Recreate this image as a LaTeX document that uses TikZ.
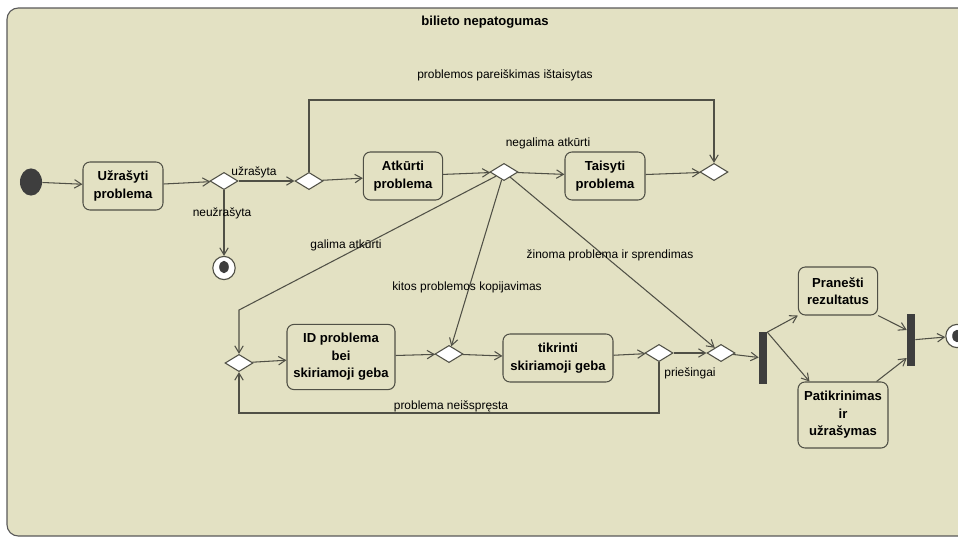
\documentclass[tikz,border=0pt]{standalone}
\usepackage{fontspec}
\setmainfont{Liberation Sans}
\usetikzlibrary{shapes.geometric,arrows.meta}
\definecolor{bgbeige}{RGB}{227,225,195}
\definecolor{linegray}{RGB}{80,80,70}
\definecolor{darkfill}{RGB}{62,62,62}
\tikzset{
  flow/.style={draw=linegray, line width=0.75pt, -{Straight Barb[length=5pt,width=6pt]}},
  action/.style={draw=linegray, line width=0.75pt, rounded corners=5pt, fill=bgbeige, align=center,
    inner sep=1pt, font=\fontsize{9.3}{12.5}\selectfont\bfseries},
  choice/.style={diamond, draw=linegray, line width=0.75pt, fill=white, minimum width=0.7cm,
    minimum height=0.43cm, inner sep=0pt},
  syncbar/.style={fill=darkfill, minimum width=0.2cm, minimum height=1.28cm, inner sep=0pt},
  guard/.style={font=\fontsize{8.5}{10}\selectfont, inner sep=1pt},
  endring/.style={ellipse, draw=linegray, line width=0.8pt, fill=white, minimum width=0.56cm,
    minimum height=0.58cm, inner sep=0pt},
  enddot/.style={ellipse, fill=darkfill, minimum width=0.24cm, minimum height=0.31cm, inner sep=0pt}
}
\begin{document}
\begin{tikzpicture}[x=0.025cm, y=-0.025cm]
\useasboundingbox (0,0) rectangle (958,539);
\clip (0,0) rectangle (958,539);
% frame and title
\draw[draw=gray!70!black, fill=bgbeige, rounded corners=8pt, line width=0.8pt] (7,8) rectangle (990,536);
\node[font=\fontsize{9.3}{11}\selectfont\bfseries] (title) at (485,22) {bilieto nepatogumas};

% start and end
\node[ellipse, fill=darkfill, minimum width=0.55cm, minimum height=0.68cm, inner sep=0pt] (start) at (31,182) {};
\node[endring] (fin1) at (224,268) {};
\node[enddot] (fin1dot) at (224,267) {};
\node[endring] (fin2) at (957,336) {};
\node[enddot] (fin2dot) at (957,336) {};

% actions
\node[action, minimum width=2.0cm, minimum height=1.2cm] (uz) at (123,186) {Užrašyti\\problema};
\node[action, minimum width=1.98cm, minimum height=1.2cm] (atk) at (403,176) {Atkūrti\\problema};
\node[action, minimum width=2.0cm, minimum height=1.2cm] (tai) at (605,176) {Taisyti\\problema};
\node[action, minimum width=2.7cm, minimum height=1.63cm] (idp) at (341,357) {ID problema\\bei\\skiriamoji geba};
\node[action, minimum width=2.75cm, minimum height=1.2cm] (tik) at (558,358) {tikrinti\\skiriamoji geba};
\node[action, minimum width=1.98cm, minimum height=1.2cm] (pr) at (838,291) {Pranešti\\rezultatus};
\node[action, minimum width=2.25cm, minimum height=1.65cm] (pt) at (843,415) {Patikrinimas\\ir\\užrašymas};

% decisions and bars
\node[choice] (d1) at (224,181) {};
\node[choice] (d2) at (309,181) {};
\node[choice] (d3) at (504,172) {};
\node[choice] (d5) at (714,172) {};
\node[choice] (d4) at (239,363) {};
\node[choice] (d6) at (449,354) {};
\node[choice] (d7) at (659,353) {};
\node[choice] (d8) at (721,353) {};
\node[syncbar] (bar1) at (763,358) {};
\node[syncbar] (bar2) at (911,340) {};

\coordinate (ptop) at (714,100);
\coordinate (bendL) at (239,310);
\coordinate (loopL) at (239,413);

% flows
\draw[flow] (start) -- (uz);
\draw[flow] (uz) -- (d1);
\draw[flow] (d1) -- (d2);
\draw[flow] (d1) -- (fin1);
\draw[flow] (d2) -- (atk);
\draw[flow] (d2.north) |- (ptop) -- (d5.north);
\draw[flow] (atk) -- (d3);
\draw[flow] (d3) -- (tai);
\draw[flow] (tai) -- (d5);
\draw[flow] (d3) -- (bendL) -- (d4.north);
\draw[flow] (d3) -- (d6);
\draw[flow] (d3) -- (d8);
\draw[flow] (d4) -- (idp);
\draw[flow] (idp) -- (d6);
\draw[flow] (d6) -- (tik);
\draw[flow] (tik) -- (d7);
\draw[flow] (d7) -- (d8);
\draw[flow] (d7.south) |- (loopL) -- (d4.south);
\draw[flow] (d8) -- (bar1);
\draw[flow] (bar1.north east) -- (pr.south west);
\draw[flow] (bar1.north east) -- (pt.135);
\draw[flow] (pr.south east) -- ([yshift=0.25cm]bar2.west);
\draw[flow] (pt.45) -- ([yshift=-0.45cm]bar2.west);
\draw[flow] (bar2) -- (fin2);

% guards
\node[guard] (g1) at (254,172) {užrašyta};
\node[guard] (g2) at (222,213) {neužrašyta};
\node[guard] (g3) at (505,75) {problemos pareiškimas ištaisytas};
\node[guard] (g4) at (548,143) {negalima atkūrti};
\node[guard] (g5) at (346,245) {galima atkūrti};
\node[guard] (g6) at (467,287) {kitos problemos kopijavimas};
\node[guard] (g7) at (610,255) {žinoma problema ir sprendimas};
\node[guard] (g8) at (690,373) {priešingai};
\node[guard] (g9) at (451,406) {problema neišspręsta};
\end{tikzpicture}
\end{document}
